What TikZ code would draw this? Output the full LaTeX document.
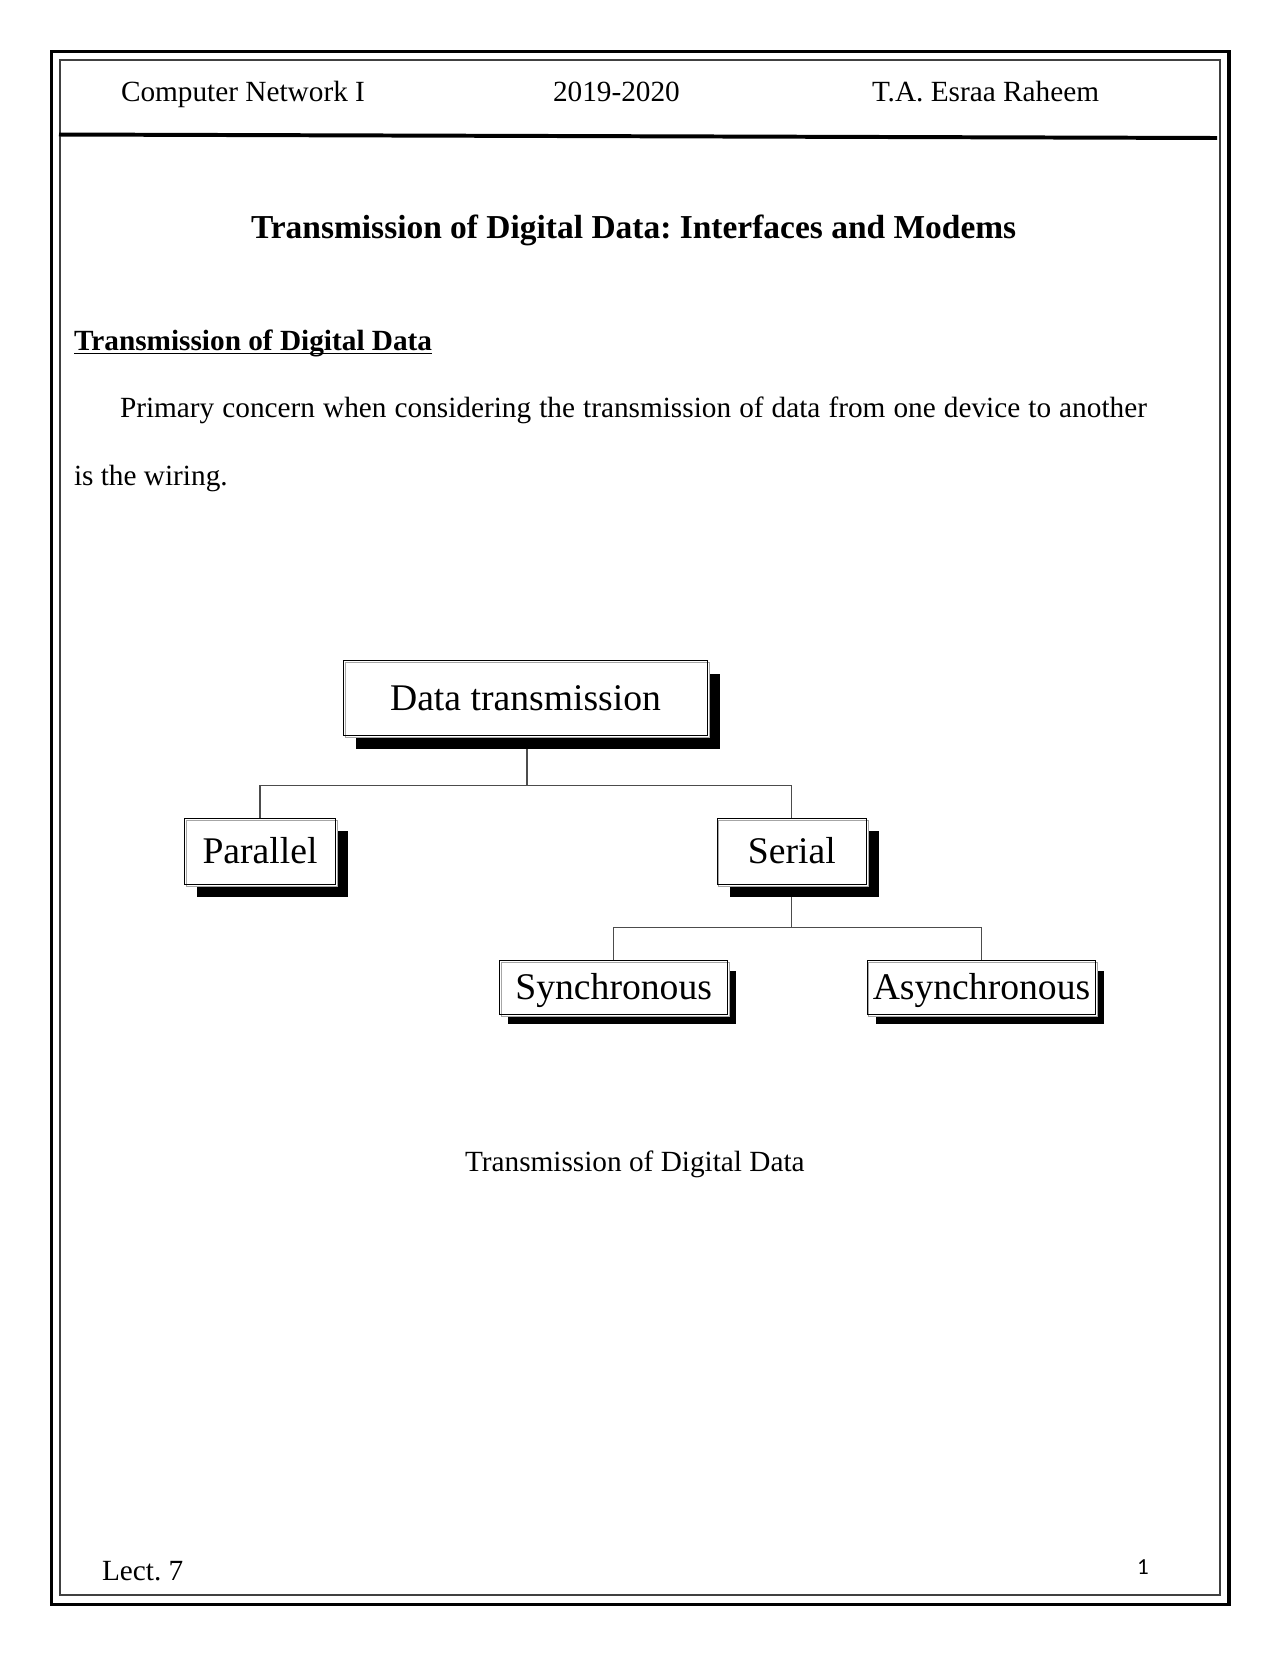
\documentclass[tikz,border=0pt]{standalone}
\usepackage{fontspec}
\setmainfont{Liberation Serif}
\newfontfamily\pagenumfont{Carlito}
\usetikzlibrary{shadows,backgrounds}
\frenchspacing
\begin{document}
\frenchspacing
\begin{tikzpicture}[x=0.478125pt,y=-0.478125pt,
  txt/.style={inner sep=0pt, outer sep=0pt, anchor=base west, font=\fontsize{14}{16}\selectfont},
  box/.style={draw=black, line width=0.5pt, inner sep=0pt, outer sep=0pt,
    font=\fontsize{18}{20}\selectfont, text height=12pt, text depth=0.5pt, align=center},
  shadowA/.style={general shadow={fill=black, shadow xshift=6pt, shadow yshift=-6.2pt},
    general shadow={draw=black!35, fill=white, line width=0.4pt, shadow xshift=0.8pt, shadow yshift=-0.9pt}},
  shadowB/.style={general shadow={fill=black, shadow xshift=4pt, shadow yshift=-4.8pt},
    general shadow={draw=black!35, fill=white, line width=0.4pt, shadow xshift=0.8pt, shadow yshift=-0.9pt}},
  conn/.style={draw=black!70, line width=0.55pt},
  outerframe/.style={draw=black, line width=1.45pt},
  innerframe/.style={draw=black!75, line width=0.95pt}
]
\useasboundingbox (0,0) rectangle (1280,1656);

% page frames
\draw[outerframe] (51.5,51.5) rectangle (1229,1604.2);
\draw[innerframe] (60,60) rectangle (1219.7,1595.3);

% header
\node[txt] (h1) at (121,101.7) {Computer Network I};
\node[txt] (h2) at (553,101.7) {2019-2020};
\node[txt] (h3) at (872,101.7) {T.A. Esraa Raheem};
\draw[line width=1.9pt] (59,134.5) -- (1217,138);

% title and text
\node[txt, font=\fontsize{16}{18}\selectfont\bfseries] (title) at (251,238) {Transmission of Digital Data: Interfaces and Modems};
\node[txt, font=\fontsize{14}{16}\selectfont\bfseries] (sec) at (74,350) {Transmission of Digital Data};
\draw[line width=0.7pt] ([yshift=-1.7pt]sec.base west) -- ([yshift=-1.7pt]sec.base east);
\node[txt] (p1) at (120,417) {\makebox[491pt][s]{Primary concern when considering the transmission of data from one device to another}};
\node[txt] (p2) at (74,485) {is the wiring.};

% diagram
\node[box, shadowA, minimum width=174.2pt, minimum height=35.9pt] (dt) at (525.5,698.2) {Data transmission};
\node[box, shadowA, minimum width=72.3pt, minimum height=31.4pt] (par) at (260,851.2) {Parallel};
\node[box, shadowA, minimum width=71.4pt, minimum height=31.4pt] (ser) at (791.8,851.2) {Serial};
\node[box, shadowB, minimum width=108.9pt, minimum height=25.6pt] (syn) at (613.7,987.5) {Synchronous};
\node[box, shadowB, minimum width=109.3pt, minimum height=25.6pt] (asy) at (981.5,987.5) {Asynchronous};

\coordinate (j1) at (527,785.7);
\coordinate (j2) at (793,927.7);
\begin{scope}[on background layer]
\draw[conn] (dt.south -| j1) -- (j1);
\draw[conn] (par.north) |- (ser.north |- j1) -- (ser.north);
\draw[conn] (ser.south) -- (ser.south |- j2);
\draw[conn] (syn.north) |- (asy.north |- j2) -- (asy.north);
\end{scope}

% caption and footer
\node[txt] (cap) at (465,1171) {Transmission of Digital Data};
\node[txt] (lect) at (102,1580) {Lect. 7};
\node[txt, font=\pagenumfont\fontsize{11}{13}\selectfont] (pg) at (1137,1574.7) {1};
\end{tikzpicture}
\end{document}
